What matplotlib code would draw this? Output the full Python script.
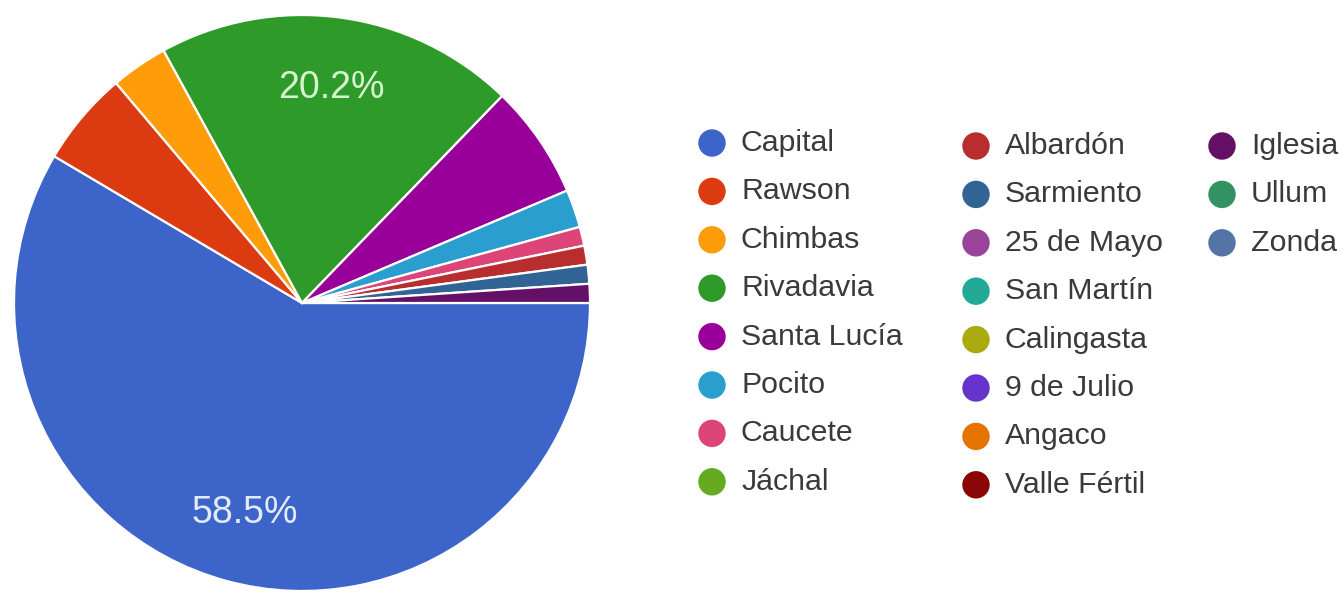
import matplotlib
matplotlib.use("Agg")
import matplotlib.pyplot as plt

plt.rcParams['font.family'] = ['Liberation Sans', 'DejaVu Sans']

# Departments of San Juan and number of responses for each
departments = [
    "Capital", "Rawson", "Chimbas", "Rivadavia", "Santa Lucía", "Pocito",
    "Caucete", "Jáchal", "Albardón", "Sarmiento", "25 de Mayo", "San Martín",
    "Calingasta", "9 de Julio", "Angaco", "Valle Fértil", "Iglesia", "Ullum",
    "Zonda",
]
responses = [55, 5, 3, 19, 6, 2, 1, 0, 1, 1, 0, 0, 0, 0, 0, 0, 1, 0, 0]
colors = [
    "#3d65c9", "#dc3b12", "#ff9c0a", "#2e9a2a", "#990099", "#2a9fcf",
    "#dd4477", "#66aa22", "#b82e2e", "#316395", "#994499", "#22aa99",
    "#aaaa11", "#6633cc", "#e67300", "#8b0707", "#651067", "#329262",
    "#5574a6",
]

W, H, DPI = 1343, 592, 100
fig = plt.figure(figsize=(W / DPI, H / DPI), dpi=DPI)
fig.patch.set_facecolor("white")

# Pie: only departments with at least one response get a slice
cx, cy, r = 302, 303, 288
ax = fig.add_axes([(cx - r) / W, (H - cy - r) / H, 2 * r / W, 2 * r / H])
shown = [(v, c) for v, c in zip(responses, colors) if v > 0]
vals = [v for v, _ in shown]
cols = [c for _, c in shown]

wedges, _, autotexts = ax.pie(
    vals, colors=cols, startangle=0, counterclock=False, radius=1,
    autopct=lambda p: f"{p:.1f}%" if p > 10 else "",
    pctdistance=0.755,
    wedgeprops=dict(edgecolor="white", linewidth=1.6),
    textprops=dict(fontsize=27),
)
label_colors = {"#3d65c9": "#e3eafa", "#2e9a2a": "#d6f5cf"}
for t, c in zip(autotexts, cols):
    t.set_color(label_colors.get(c, "white"))
ax.set_xlim(-1, 1)
ax.set_ylim(-1, 1)
ax.set_aspect("equal")
ax.axis("off")

# Legend in three columns of up to eight entries
lax = fig.add_axes([0, 0, 1, 1])
lax.set_xlim(0, W)
lax.set_ylim(H, 0)
lax.axis("off")
col_x = [712, 976, 1222]
col_y0 = [143, 146, 146]
row_pitch = 48.4
per_col = 8
for i, (name, c) in enumerate(zip(departments, colors)):
    col, row = divmod(i, per_col)
    x = col_x[col]
    y = col_y0[col] + row * row_pitch
    lax.scatter([x], [y], s=390, color=c, edgecolors="none")
    lax.text(x + 29, y, name, fontsize=21.8, color="#3a3a3a",
             va="center", ha="left")

fig.savefig("out.png", dpi=DPI, facecolor="white")
